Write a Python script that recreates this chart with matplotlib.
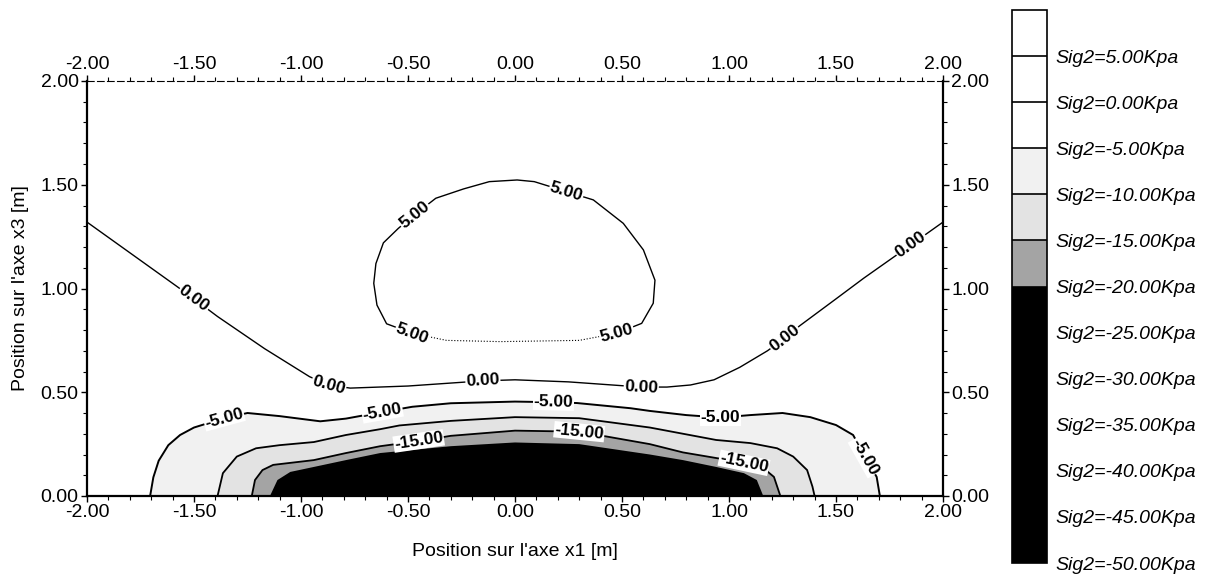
import numpy as np
import matplotlib.pyplot as plt
from matplotlib.colors import ListedColormap, BoundaryNorm
from matplotlib.cm import ScalarMappable
from matplotlib.ticker import MultipleLocator, FormatStrFormatter

plt.rcParams['font.family'] = ['Liberation Sans', 'DejaVu Sans']
plt.rcParams['axes.unicode_minus'] = False

##########################################################################
# Sig2 isolines (x1, x3 in m)
levels = [-50, -45, -40, -35, -30, -25, -20, -15, -10, -5, 0, 5, 10]

# +5 closed loop
iso_p5_x = [-0.48, -0.60, -0.645, -0.66, -0.65, -0.615, -0.545, -0.47, -0.37, -0.24, -0.12,
            0.01, 0.09, 0.24, 0.366, 0.506, 0.60, 0.654, 0.646, 0.592, 0.475,
            0.30, -0.07, -0.32, -0.48]
iso_p5_y = [0.784, 0.83, 0.92, 1.025, 1.12, 1.22, 1.29, 1.355, 1.435, 1.48, 1.515,
            1.523, 1.515, 1.467, 1.427, 1.314, 1.186, 1.04, 0.929, 0.832, 0.784,
            0.75, 0.744, 0.75, 0.784]

# 0 line, across the whole section
iso_0_x = [-2.0, -1.79, -1.58, -1.50, -1.39, -1.17, -0.96, -0.87, -0.77, -0.50, -0.15, 0.0,
           0.25, 0.59, 0.71, 0.82, 0.93, 1.05, 1.18, 1.26, 1.33, 1.50, 1.63, 1.85, 2.0]
iso_0_y = [1.32, 1.165, 1.01, 0.95, 0.865, 0.71, 0.575, 0.535, 0.52, 0.53, 0.555, 0.56,
           0.55, 0.525, 0.525, 0.535, 0.56, 0.62, 0.70, 0.76, 0.82, 0.95, 1.05, 1.21, 1.32]

# -5 line
iso_m5_x = [-1.705, -1.69, -1.665, -1.62, -1.565, -1.50, -1.36, -1.25, -1.10, -0.91, -0.79,
            -0.62, -0.48, -0.30, 0.0, 0.18, 0.29, 0.54, 0.63, 0.80, 0.96, 1.10, 1.25,
            1.38, 1.50, 1.58, 1.635, 1.69, 1.705]
iso_m5_y = [0.0, 0.09, 0.17, 0.245, 0.294, 0.33, 0.375, 0.40, 0.385, 0.36, 0.373,
            0.405, 0.43, 0.447, 0.455, 0.452, 0.448, 0.423, 0.41, 0.39, 0.378, 0.39, 0.40,
            0.38, 0.342, 0.294, 0.19, 0.092, 0.0]

# -10 line
iso_m10_x = [-1.39, -1.365, -1.30, -1.21, -1.10, -0.94, -0.79, -0.63, -0.54, -0.30, 0.0,
             0.30, 0.63, 0.785, 0.94, 1.10, 1.225, 1.30, 1.365, 1.39, 1.40]
iso_m10_y = [0.0, 0.11, 0.19, 0.23, 0.245, 0.26, 0.294, 0.322, 0.34, 0.362, 0.38,
             0.375, 0.33, 0.30, 0.27, 0.255, 0.23, 0.19, 0.125, 0.045, 0.0]

# -15 line
iso_m15_x = [-1.23, -1.215, -1.18, -1.13, -0.94, -0.79, -0.63, -0.45, -0.30, 0.0, 0.30,
             0.63, 0.785, 0.94, 1.07, 1.16, 1.21, 1.24]
iso_m15_y = [0.0, 0.077, 0.125, 0.15, 0.173, 0.207, 0.24, 0.265, 0.29, 0.315, 0.31,
             0.25, 0.21, 0.183, 0.16, 0.135, 0.092, 0.0]

# -20 line (edge of the black zone)
iso_m20_x = [-1.145, -1.11, -1.05, -0.94, -0.79, -0.63, -0.30, 0.0, 0.30, 0.63, 0.785,
             0.94, 1.07, 1.13, 1.16]
iso_m20_y = [0.0, 0.077, 0.116, 0.14, 0.173, 0.207, 0.24, 0.258, 0.25, 0.20, 0.173,
             0.14, 0.11, 0.077, 0.0]

# vertices that carry a label
lab_p5 = [0, 7, 13, 20]
lab_0 = [3, 7, 10, 13, 19, 23]
lab_m5 = [6, 11, 15, 20, 26]
lab_m15 = [7, 10, 14]

seg_colors = ['black'] * 6 + ['#a4a4a4', '#e3e3e3', '#f1f1f1', 'white', 'white', 'white']

##########################################################################
cmap = ListedColormap(seg_colors)
norm = BoundaryNorm(levels, cmap.N)

fig = plt.figure(figsize=(12.26, 5.77), dpi=100)
ax = fig.add_axes([87/1226, 1-496/577, 856/1226, 415/577])
ax.set_xlim(-2, 2)
ax.set_ylim(0, 2)


def fill_zone(x, y, lev):
    # zone just under an isoline gets the colour of the next band down
    ax.fill(x, y, color=cmap(norm(lev - 2.5)), lw=0, zorder=1)


fill_zone(iso_m5_x, iso_m5_y, -5)
fill_zone(iso_m10_x, iso_m10_y, -10)
fill_zone(iso_m15_x, iso_m15_y, -15)
fill_zone(iso_m20_x, iso_m20_y, -20)

ax.plot(iso_p5_x[:21], iso_p5_y[:21], color='k', lw=1.0, zorder=2)
ax.plot(iso_p5_x[20:], iso_p5_y[20:], color='k', lw=0.8, ls=':', zorder=2)
ax.plot(iso_0_x, iso_0_y, color='k', lw=1.0, zorder=2)
ax.plot(iso_m5_x, iso_m5_y, color='k', lw=1.4, zorder=2)
ax.plot(iso_m10_x, iso_m10_y, color='k', lw=1.3, zorder=2)
ax.plot(iso_m15_x, iso_m15_y, color='k', lw=1.3, zorder=2)


def label_line(x, y, idx, txt):
    p = ax.transData.transform(np.column_stack([x, y]))
    i0 = max(idx-1, 0)
    i1 = min(idx+1, len(x)-1)
    dx, dy = p[i1] - p[i0]
    ang = np.degrees(np.arctan2(dy, dx))
    if ang > 90:
        ang -= 180
    if ang < -90:
        ang += 180
    ax.text(x[idx], y[idx], txt, rotation=ang, rotation_mode='anchor',
            ha='center', va='center', fontsize=12.5, fontweight='bold', zorder=3,
            bbox=dict(fc='white', ec='none', pad=0.5))


for i in lab_p5:
    label_line(iso_p5_x, iso_p5_y, i, '5.00')
for i in lab_0:
    label_line(iso_0_x, iso_0_y, i, '0.00')
for i in lab_m5:
    label_line(iso_m5_x, iso_m5_y, i, '-5.00')
for i in lab_m15:
    label_line(iso_m15_x, iso_m15_y, i, '-15.00')

# axes, ticks on all four sides
ax.xaxis.set_major_locator(MultipleLocator(0.5))
ax.yaxis.set_major_locator(MultipleLocator(0.5))
ax.xaxis.set_minor_locator(MultipleLocator(0.1))
ax.yaxis.set_minor_locator(MultipleLocator(0.1))
ax.xaxis.set_major_formatter(FormatStrFormatter('%.2f'))
ax.yaxis.set_major_formatter(FormatStrFormatter('%.2f'))
ax.tick_params(which='both', top=True, right=True, labeltop=True, labelright=True,
               labelsize=14, pad=2)
ax.tick_params(which='major', length=4, width=1)
ax.tick_params(which='minor', length=3, width=0.8)
for s in ['left', 'right', 'bottom']:
    ax.spines[s].set_linewidth(1.6)
ax.spines['top'].set_linewidth(0.8)
ax.spines['top'].set_linestyle((0, (6, 3)))

ax.set_xlabel("Position sur l'axe x1 [m]", fontsize=14)
ax.set_ylabel("Position sur l'axe x3 [m]", fontsize=14)
ax.xaxis.set_label_coords(0.5, -0.113)
ax.yaxis.set_label_coords(-0.068, 0.5)

# legend bar
cax = fig.add_axes([1012/1226, 1-563/577, 35/1226, 553/577])
cb = fig.colorbar(ScalarMappable(norm=norm, cmap=cmap), cax=cax, drawedges=True)
cb.set_ticks(levels[:-1])
cb.ax.minorticks_off()
cb.ax.set_yticklabels(['Sig2=%.2fKpa' % v for v in levels[:-1]], style='italic', fontsize=14)
cb.ax.tick_params(which='both', length=0, pad=6)
cb.outline.set_linewidth(1.2)
cb.dividers.set_linewidth(1.2)

plt.savefig('out.png', dpi=100)
